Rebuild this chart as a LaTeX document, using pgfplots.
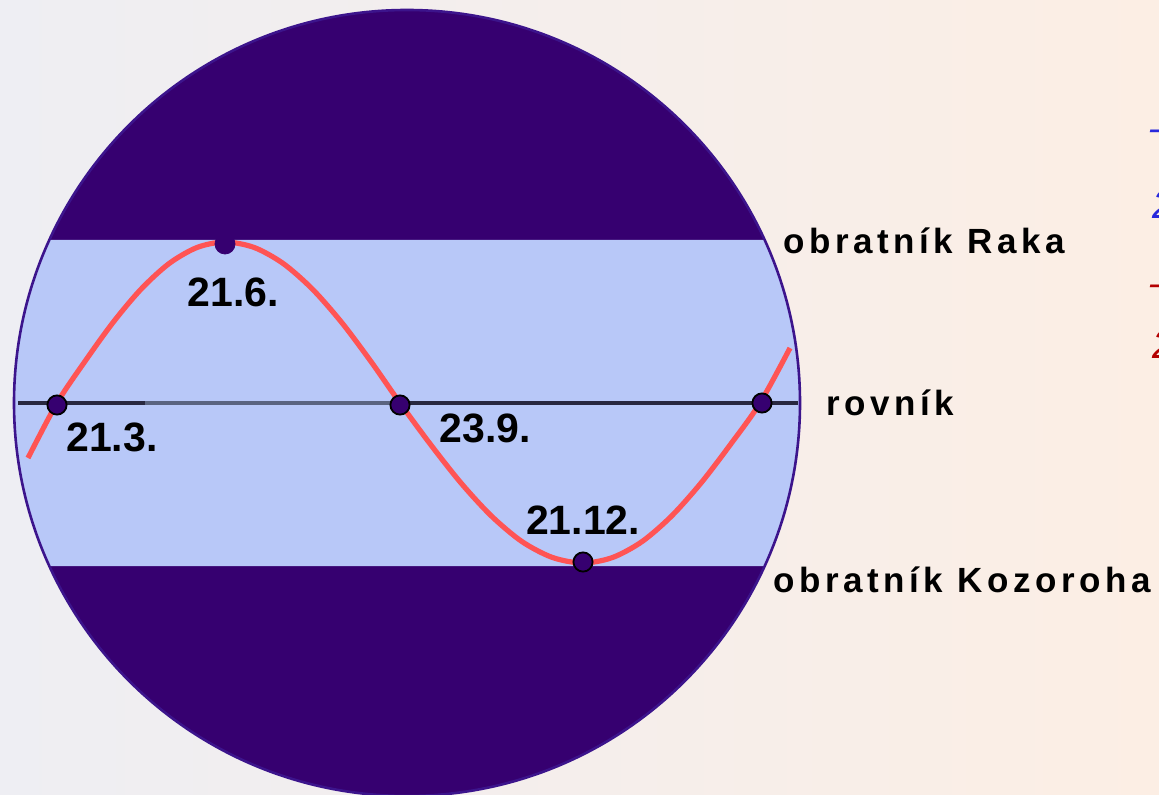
\documentclass[border=0pt]{standalone}
\usepackage{pgfplots}
\pgfplotsset{compat=1.18}
\usepackage{fontspec}
\setmainfont{Liberation Sans}
\definecolor{bgL}{RGB}{238,238,243}
\definecolor{bgR}{RGB}{252,238,228}
\definecolor{dark}{RGB}{54,0,112}
\definecolor{rim}{RGB}{60,20,140}
\definecolor{band}{RGB}{184,200,248}
\definecolor{curve}{RGB}{255,84,84}
\definecolor{eqd}{RGB}{40,40,64}
\definecolor{eqg}{RGB}{90,100,128}
\definecolor{bl}{RGB}{40,40,220}
\definecolor{rd}{RGB}{180,0,0}
\begin{document}
\begin{tikzpicture}
\begin{axis}[
  scale only axis, width=579.5pt, height=397.5pt,
  xmin=0, xmax=1159, ymin=0, ymax=795, y dir=reverse,
  hide axis, clip=true,
]
% background
\addplot[left color=bgL, right color=bgR, draw=none] coordinates {(0,0)(1159,0)(1159,795)(0,795)} \closedcycle;
% disk
\fill[dark] (axis cs:407,403) circle [radius=196.5pt];
\begin{scope}
\clip (axis cs:407,403) circle [radius=196.5pt];
\addplot[fill=band, draw=none] coordinates {(0,240)(1159,240)(1159,566)(0,566)} \closedcycle;
\end{scope}
\draw[rim, line width=1.3pt] (axis cs:407,403) circle [radius=196.5pt];
% equator
\addplot[eqd, line width=2pt] coordinates {(18,403)(145,403)};
\addplot[eqg, line width=2pt] coordinates {(145,403)(398,403)};
\addplot[eqd, line width=2pt] coordinates {(398,403)(798,403)};
% sun path
\addplot[curve, line width=2.6pt, smooth] coordinates {
(28,458)
(57,403)(85,361.3)(113,322.5)(141,289.2)(169,263.6)(197,247.5)(225,242)
(254.2,247.5)(283.3,263.6)(312.5,289.2)(341.7,322.5)(370.8,361.3)(400,403)
(430.5,444.4)(461,483)(491.5,516.1)(522,541.6)(552.5,557.5)(583,563)
(612.5,557.5)(642,541.6)(671.5,516.1)(701,483)(730.5,444.4)(760,403)
(790,348)
};
% points
\addplot[only marks, mark=*, mark size=4.8pt, mark options={fill=dark, draw=black, line width=0.9pt}]
 coordinates {(57,405)(400,405)(583,562)(762,403)};
\addplot[only marks, mark=*, mark size=5pt, mark options={fill=dark, draw=dark}]
 coordinates {(225,244)};
% labels
\begin{scope}[every node/.style={font=\fontsize{20.5}{24}\selectfont\bfseries, inner sep=0pt}]
\node at (axis cs:233,292) {21.6.};
\node at (axis cs:112,437) {21.3.};
\node at (axis cs:485,428) {23.9.};
\node at (axis cs:583,520) {21.12.};
\end{scope}
\begin{scope}[every node/.style={font=\fontsize{17.5}{22}\selectfont\bfseries, inner sep=0pt, anchor=west}]
\node at (axis cs:783,241) {\addfontfeature{LetterSpace=13}obratník Raka};
\node at (axis cs:826,403) {\addfontfeature{LetterSpace=13}rovník};
\node at (axis cs:773,580) {\addfontfeature{LetterSpace=13}obratník Kozoroha};
\end{scope}
\begin{scope}[every node/.style={font=\fontsize{20}{24}\selectfont\itshape, inner sep=0pt, anchor=west}]
\node[text=bl] at (axis cs:1150,128) {– 21.};
\node[text=bl] at (axis cs:1152,205) {21.};
\node[text=rd] at (axis cs:1150,283) {– 23.};
\node[text=rd] at (axis cs:1152,345) {23.};
\end{scope}
\end{axis}
\pgfresetboundingbox
\useasboundingbox (0,0) rectangle (579.5pt,397.5pt);
\end{tikzpicture}
\end{document}
